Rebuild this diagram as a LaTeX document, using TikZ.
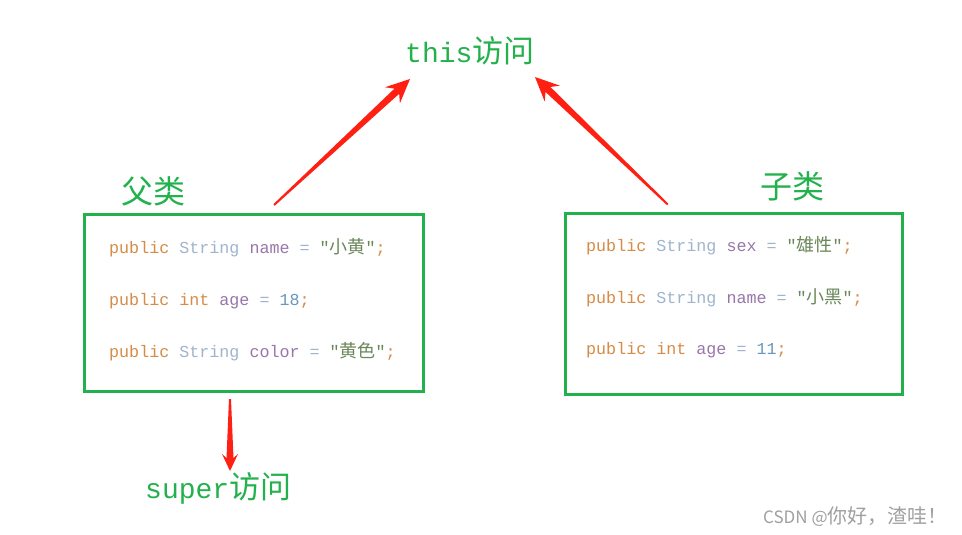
\documentclass[tikz,border=0pt]{standalone}
\usepackage{fontspec}
\setmonofont{Liberation Mono}
\newfontfamily\cjk{Noto Sans CJK SC}
\usetikzlibrary{calc}

\definecolor{boxgreen}{RGB}{34,177,76}
\definecolor{arrowred}{RGB}{255,32,20}
\definecolor{kwcol}{RGB}{214,140,70}
\definecolor{tycol}{RGB}{160,180,205}
\definecolor{fdcol}{RGB}{152,118,170}
\definecolor{strcol}{RGB}{106,135,89}
\definecolor{numcol}{RGB}{104,151,187}
\definecolor{markgray}{RGB}{160,160,160}

\newcommand\ckw[1]{\textcolor{kwcol}{#1}}
\newcommand\cty[1]{\textcolor{tycol}{#1}}
\newcommand\cfd[1]{\textcolor{fdcol}{#1}}
\newcommand\cstr[1]{\textcolor{strcol}{#1}}
\newcommand\cnum[1]{\textcolor{numcol}{#1}}
\newcommand\ccn[1]{{\cjk\fontsize{18}{20}\selectfont #1}}

% tapered red arrow: tail, tip, head base, barb base, half width
\newcommand\redarrow[5]{%
  \path ($(#2)!#3!(#1)$) coordinate (hb) ($(#2)!#4!(#1)$) coordinate (hw);
  \fill[arrowred] ($(#1)!1pt!90:(#2)$) -- ($(hb)!3.5pt!90:(#2)$) -- ($(hw)!#5!90:(#2)$) -- (#2)
    -- ($(hw)!#5!-90:(#2)$) -- ($(hb)!3.5pt!-90:(#2)$) -- ($(#1)!1pt!-90:(#2)$) -- cycle;}

\begin{document}
\begin{tikzpicture}[x=1pt, y=-1pt,
    classbox/.style={draw=boxgreen, line width=3pt, inner sep=0pt},
    codeline/.style={anchor=base west, inner sep=0pt,
                     font=\ttfamily\fontsize{16.7}{20}\selectfont},
    lbl/.style={anchor=base west, inner sep=0pt, text=boxgreen,
                font=\ttfamily\fontsize{28}{30}\selectfont},
    cnlbl/.style={text=boxgreen, inner sep=0pt, font=\cjk\fontsize{32}{32}\selectfont},
    wmark/.style={anchor=west, inner sep=0pt, text=markgray, font=\cjk\fontsize{17}{17}\selectfont}
]
    \fill[white] (0,0) rectangle (962,535);
    \useasboundingbox (0,0) rectangle (962,535);

    % Parent class (left)
    \node[classbox, minimum width=338.5, minimum height=177] (parent) at (254,303) {};
    \node[cnlbl] (parentlbl) at (153,191) {父类};
    \node[codeline] (p1) at (109,253) {\ckw{public} \cty{String} \cfd{name} \cty{=} \cstr{"\ccn{小黄}"}\ckw{;}};
    \node[codeline] (p2) at (109,305) {\ckw{public} \ckw{int} \cfd{age} \cty{=} \cnum{18}\ckw{;}};
    \node[codeline] (p3) at (109,357) {\ckw{public} \cty{String} \cfd{color} \cty{=} \cstr{"\ccn{黄色}"}\ckw{;}};

    % Child class (right)
    \node[classbox, minimum width=336.5, minimum height=181] (child) at (733.75,303.5) {};
    \node[cnlbl] (childlbl) at (792,186) {子类};
    \node[codeline] (c1) at (586,251) {\ckw{public} \cty{String} \cfd{sex} \cty{=} \cstr{"\ccn{雄性}"}\ckw{;}};
    \node[codeline] (c2) at (586,303) {\ckw{public} \cty{String} \cfd{name} \cty{=} \cstr{"\ccn{小黑}"}\ckw{;}};
    \node[codeline] (c3) at (586,354) {\ckw{public} \ckw{int} \cfd{age} \cty{=} \cnum{11}\ckw{;}};

    % Access labels
    \node[lbl] (thislbl) at (405,63) {this{\cjk\fontsize{31}{31}\selectfont 访问}};
    \node[lbl] (superlbl) at (145,498) {super{\cjk\fontsize{31}{31}\selectfont 访问}};

    % Arrows
    \coordinate (a1s) at ([shift={(20,-8)}]parent.north);
    \coordinate (a1e) at (410,79);
    \coordinate (a2s) at ([shift={(-66,-7)}]child.north);
    \coordinate (a2e) at (535,77);
    \coordinate (a3s) at ([shift={(-24,6)}]parent.south);
    \coordinate (a3e) at (230,471);
    \redarrow{a1s}{a1e}{18pt}{24pt}{11pt}
    \redarrow{a2s}{a2e}{18pt}{24pt}{11pt}
    \redarrow{a3s}{a3e}{13pt}{17pt}{8pt}

    \node[wmark] (wm) at (763,517) {CSDN @{\fontsize{20}{20}\selectfont 你好，渣哇！}};
\end{tikzpicture}
\end{document}
